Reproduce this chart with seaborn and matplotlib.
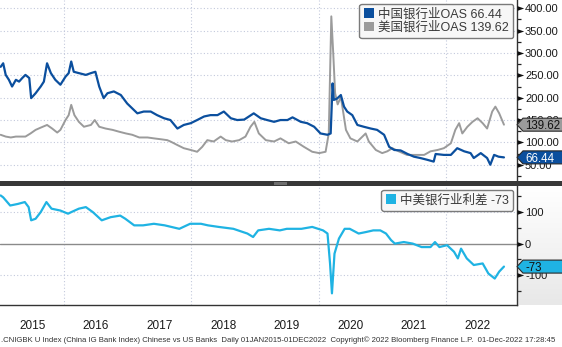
import numpy as np
import matplotlib
matplotlib.use("Agg")
import matplotlib.pyplot as plt
import matplotlib.transforms as mtransforms
from matplotlib.patches import Rectangle, Polygon, Patch
from matplotlib.path import Path
import seaborn as sns

sns.set_style("white")
plt.rcParams["font.family"] = ["Liberation Sans", "Noto Sans CJK SC", "DejaVu Sans"]
plt.rcParams["axes.unicode_minus"] = False

# ---------------- data (decimal years, bp) ----------------
cn_t = [2015.00, 2015.04, 2015.08, 2015.13, 2015.18, 2015.24, 2015.29, 2015.34, 2015.39, 2015.45,
        2015.48, 2015.55, 2015.63, 2015.68, 2015.73, 2015.79, 2015.86, 2015.94, 2016.02, 2016.07,
        2016.11, 2016.15, 2016.23, 2016.34, 2016.42, 2016.49, 2016.55, 2016.62, 2016.68, 2016.78,
        2016.89, 2016.99, 2017.07, 2017.15, 2017.25, 2017.36, 2017.46, 2017.57, 2017.67, 2017.78,
        2017.88, 2017.99, 2018.09, 2018.20, 2018.30, 2018.41, 2018.51, 2018.62, 2018.72, 2018.83,
        2018.98, 2019.09, 2019.19, 2019.30, 2019.40, 2019.51, 2019.59, 2019.72, 2019.82, 2019.93,
        2020.03, 2020.14, 2020.19, 2020.22, 2020.24, 2020.29, 2020.35, 2020.40, 2020.45, 2020.53,
        2020.61, 2020.71, 2020.82, 2020.92, 2021.03, 2021.11, 2021.19, 2021.29, 2021.40, 2021.50,
        2021.60, 2021.71, 2021.81, 2021.84, 2021.97, 2022.08, 2022.18, 2022.29, 2022.39, 2022.44,
        2022.55, 2022.65, 2022.70, 2022.76, 2022.83, 2022.915]
cn_v = [269, 277, 251, 240, 225, 240, 236, 244, 251, 244,
        199, 210, 225, 236, 277, 255, 240, 229, 247, 255,
        281, 258, 255, 251, 255, 258, 225, 199, 210, 214,
        206, 187, 176, 165, 169, 169, 161, 154, 150, 131,
        139, 143, 150, 158, 161, 161, 169, 154, 150, 151,
        165, 154, 150, 146, 150, 150, 156, 146, 143, 135,
        120, 117, 120, 232, 195, 198, 206, 180, 169, 161,
        139, 135, 131, 128, 117, 90, 83, 82, 74, 68,
        65, 61, 57, 74, 72, 72, 87, 80, 76, 65,
        76, 65, 50, 72, 68, 66.44]

us_t = [2015.00, 2015.08, 2015.16, 2015.24, 2015.31, 2015.39, 2015.47, 2015.55, 2015.63, 2015.73,
        2015.81, 2015.89, 2015.94, 2016.02, 2016.07, 2016.11, 2016.16, 2016.23, 2016.31, 2016.42,
        2016.48, 2016.55, 2016.65, 2016.76, 2016.86, 2016.97, 2017.07, 2017.18, 2017.31, 2017.41,
        2017.52, 2017.62, 2017.67, 2017.78, 2017.88, 2017.99, 2018.09, 2018.17, 2018.25, 2018.35,
        2018.46, 2018.54, 2018.64, 2018.75, 2018.85, 2018.93, 2018.99, 2019.06, 2019.17, 2019.30,
        2019.40, 2019.53, 2019.64, 2019.77, 2019.90, 2020.01, 2020.11, 2020.16, 2020.20, 2020.23,
        2020.26, 2020.30, 2020.35, 2020.39, 2020.43, 2020.50, 2020.61, 2020.69, 2020.74, 2020.79,
        2020.90, 2021.00, 2021.08, 2021.16, 2021.26, 2021.39, 2021.52, 2021.66, 2021.76, 2021.87,
        2021.97, 2022.08, 2022.15, 2022.21, 2022.26, 2022.34, 2022.42, 2022.50, 2022.58, 2022.65,
        2022.73, 2022.78, 2022.84, 2022.915]
us_v = [117, 113, 111, 113, 113, 113, 120, 128, 133, 139,
        131, 122, 128, 150, 161, 184, 161, 146, 135, 139,
        150, 135, 131, 128, 124, 120, 117, 111, 111, 109,
        107, 105, 102, 94, 87, 83, 79, 90, 105, 102,
        113, 105, 102, 105, 113, 135, 146, 120, 105, 102,
        109, 98, 102, 90, 79, 76, 79, 120, 382, 300,
        210, 185, 202, 165, 128, 109, 102, 113, 120, 102,
        83, 76, 80, 87, 80, 72, 72, 72, 80, 83,
        87, 98, 128, 143, 120, 135, 146, 154, 143, 131,
        169, 180, 165, 139.62]

sp_t = [2015.00, 2015.04, 2015.15, 2015.27, 2015.38, 2015.44, 2015.48, 2015.55, 2015.63, 2015.72,
        2015.80, 2015.94, 2016.06, 2016.11, 2016.23, 2016.34, 2016.45, 2016.59, 2016.73, 2016.88,
        2016.96, 2017.10, 2017.24, 2017.41, 2017.58, 2017.81, 2017.98, 2018.15, 2018.26, 2018.43,
        2018.66, 2018.88, 2018.97, 2019.05, 2019.22, 2019.39, 2019.50, 2019.73, 2019.90, 2020.07,
        2020.14, 2020.18, 2020.21, 2020.25, 2020.32, 2020.41, 2020.49, 2020.63, 2020.75, 2020.86,
        2020.97, 2021.06, 2021.14, 2021.20, 2021.34, 2021.48, 2021.62, 2021.76, 2021.83, 2021.90,
        2022.02, 2022.13, 2022.19, 2022.24, 2022.33, 2022.44, 2022.58, 2022.67, 2022.77, 2022.84,
        2022.915]
sp_v = [153, 147, 121, 126, 132, 116, 74, 79, 100, 132,
        111, 105, 95, 100, 111, 116, 100, 74, 84, 89,
        79, 58, 58, 63, 58, 47, 63, 63, 58, 53,
        47, 32, 21, 42, 47, 42, 47, 47, 53, 42,
        32, -63, -158, -32, 16, 47, 47, 32, 37, 42,
        42, 32, 11, 0, 5, 0, -11, -11, 5, -11,
        -5, -26, -47, -16, -47, -68, -63, -95, -111, -89,
        -73]

years = [2015, 2016, 2017, 2018, 2019, 2020, 2021, 2022]
grid_years = [2016, 2018, 2020, 2022]
top_ticks = [50, 100, 150, 200, 250, 300, 350, 400]
top_minor = [25, 75, 125, 175, 225, 275, 325, 375]
bot_ticks = [-100, 0, 100]
bot_minor = [-150, -50, 50, 150]
cn_name = "中国银行业OAS"
us_name = "美国银行业OAS"
sp_name = "中美银行业利差"
footnote = (".CNIGBK U Index (China IG Bank Index) Chinese vs US Banks  Daily 01JAN2015-01DEC2022  "
            "Copyright\u00a9 2022 Bloomberg Finance L.P.  01-Dec-2022 17:28:45")

# ---------------- style ----------------
BLUE = "#0b4f9e"
GRAY = "#9b9b9b"
CYAN = "#1fb3e3"
GRID = "#c3c9dc"
W, H = 562, 347

def fx(px):
    return px / W

def fy(py):
    return 1 - py / H

fig = plt.figure(figsize=(5.62, 3.47), dpi=100)
fig.patch.set_facecolor("white")

ax1 = fig.add_axes([0, fy(181), fx(517), 181 / H])
ax2 = fig.add_axes([0, fy(305), fx(517), (305 - 186) / H])

# gradient behind bottom-panel value axis
gax = fig.add_axes([fx(517), fy(305), fx(46), (305 - 186) / H], zorder=-5)
g = np.linspace(1.0, 0.91, 64)[:, None]
gax.imshow(np.dstack([g, g, g]), aspect="auto", extent=[0, 1, 0, 1])
gax.axis("off")

XL = (2014.99, 2023.12)
dots = (0, (1, 2))

# ---------------- top panel ----------------
for v in top_ticks:
    ax1.axhline(v, color=GRID, lw=0.8, ls=dots, zorder=0)
for yr in grid_years:
    ax1.axvline(yr, color=GRID, lw=0.8, ls=dots, zorder=0)
sns.lineplot(x=us_t, y=us_v, ax=ax1, color=GRAY, lw=1.4, estimator=None, sort=False, zorder=3)
sns.lineplot(x=cn_t, y=cn_v, ax=ax1, color=BLUE, lw=1.6, estimator=None, sort=False, zorder=4)
ax1.set_xlim(*XL)
ax1.set_ylim(13.6, 418.6)
ax1.set_xlabel("")
ax1.set_ylabel("")
ax1.set_xticks([])
ax1.yaxis.tick_right()
ax1.set_yticks(top_ticks)
ax1.set_yticklabels([f"{v:.2f}" for v in top_ticks])
ax1.set_yticks(top_minor, minor=True)
ax1.tick_params(axis="y", which="major", length=0, pad=5.8, labelsize=8, labelcolor="#1a1a1a")
ax1.tick_params(axis="y", which="minor", length=3, width=0.9, color="#222222", direction="out")
for s in ["left", "top", "bottom"]:
    ax1.spines[s].set_visible(False)
ax1.spines["right"].set_color("#333333")
ax1.spines["right"].set_linewidth(1.0)

leg1 = ax1.legend(handles=[Patch(facecolor=BLUE, edgecolor="none", label=f"{cn_name} {cn_v[-1]:.2f}"),
                           Patch(facecolor=GRAY, edgecolor="none", label=f"{us_name} {us_v[-1]:.2f}")],
                  loc="upper right", bbox_to_anchor=(1, 1), borderaxespad=0.3, fontsize=9,
                  handlelength=0.8, handleheight=0.8, handletextpad=0.35, labelspacing=0.1,
                  borderpad=0.35, frameon=True, fancybox=True, framealpha=1,
                  facecolor="#f7f7f7", edgecolor="#7a7a7a", labelcolor="#3a3a3a")
leg1.get_frame().set_linewidth(1.0)
leg1.set_zorder(20)

# ---------------- bottom panel ----------------
for v in [-100, 100]:
    ax2.axhline(v, color=GRID, lw=0.8, ls=dots, zorder=0)
for yr in grid_years:
    ax2.axvline(yr, color=GRID, lw=0.8, ls=dots, zorder=0)
ax2.axhline(0, color="#8a8a8a", lw=1.0, zorder=1)
sns.lineplot(x=sp_t, y=sp_v, ax=ax2, color=CYAN, lw=1.6, estimator=None, sort=False, zorder=4)
ax2.set_xlim(*XL)
ax2.set_ylim(-195, 183)
ax2.set_xlabel("")
ax2.set_ylabel("")
ax2.yaxis.tick_right()
ax2.set_yticks(bot_ticks)
ax2.set_yticklabels([str(v) for v in bot_ticks])
ax2.set_yticks(bot_minor, minor=True)
ax2.tick_params(axis="y", which="major", length=0, pad=5.8, labelsize=8, labelcolor="#1a1a1a")
ax2.tick_params(axis="y", which="minor", length=3, width=0.9, color="#222222", direction="out")
ax2.set_xticks([y + 1 for y in years])
ax2.set_xticklabels([])
ax2.set_xticks([y + 0.5 for y in years], minor=True)
ax2.set_xticklabels([str(y) for y in years], minor=True)
ax2.tick_params(axis="x", which="major", length=20, width=0.9, color="#6a6a6a", direction="out")
ax2.tick_params(axis="x", which="minor", length=0, pad=10.5, labelsize=8.5, labelcolor="#1a1a1a")
for s in ["left", "top"]:
    ax2.spines[s].set_visible(False)
for s in ["right", "bottom"]:
    ax2.spines[s].set_color("#333333")
    ax2.spines[s].set_linewidth(1.0)

leg2 = ax2.legend(handles=[Patch(facecolor=CYAN, edgecolor="none", label=f"{sp_name} {sp_v[-1]:.0f}")],
                  loc="upper right", bbox_to_anchor=(1, 1), borderaxespad=0.3, fontsize=9,
                  handlelength=0.8, handleheight=0.8, handletextpad=0.35,
                  borderpad=0.35, frameon=True, fancybox=True, framealpha=1,
                  facecolor="#f7f7f7", edgecolor="#7a7a7a", labelcolor="#3a3a3a")
leg2.get_frame().set_linewidth(1.0)
leg2.set_zorder(20)

# triangular major tick markers on the value axes
tri = Path([(0, -0.35), (1, 0), (0, 0.35), (0, -0.35)],
           [Path.MOVETO, Path.LINETO, Path.LINETO, Path.CLOSEPOLY])
for ax, tks in [(ax1, top_ticks), (ax2, bot_ticks)]:
    bt = mtransforms.blended_transform_factory(ax.transAxes, ax.transData)
    ax.plot([1.0] * len(tks), tks, transform=bt, marker=tri, ms=9.6, mew=0,
            ls="none", color="#111111", clip_on=False, zorder=6)

# ---------------- separator between panels ----------------
fig.add_artist(Rectangle((0, fy(186)), 1, 5 / H, transform=fig.transFigure,
                         facecolor="#383838", edgecolor="none", zorder=30))
fig.add_artist(Rectangle((fx(274), fy(185)), fx(13), 3 / H, transform=fig.transFigure,
                         facecolor="#6e6e6e", edgecolor="none", zorder=31))

# ---------------- last-value tags ----------------
ident = mtransforms.IdentityTransform()

def tag(ax, val, text, face, tcolor):
    x0 = ax.transAxes.transform((1, 0))[0]
    y = ax.transData.transform((0, val))[1]
    h = 6.5
    verts = [(x0, y), (x0 + 6, y + h), (W + 6, y + h), (W + 6, y - h), (x0 + 6, y - h)]
    fig.add_artist(Polygon(verts, closed=True, transform=ident, facecolor=face,
                           edgecolor="#2a2a2a", lw=0.8, zorder=40))
    fig.text(x0 + 8, y, text, transform=ident, ha="left", va="center_baseline",
             fontsize=8.3, color=tcolor, zorder=41)

tag(ax1, us_v[-1], f"{us_v[-1]:.2f}", GRAY, "#111111")
tag(ax1, cn_v[-1], f"{cn_v[-1]:.2f}", BLUE, "white")
tag(ax2, sp_v[-1], f"{sp_v[-1]:.0f}", CYAN, "#111111")

# ---------------- footnote ----------------
fig.text(fx(1), fy(340), footnote, ha="left", va="center", fontsize=5.6, color="#333333")

fig.savefig("out.png", dpi=100, facecolor="white")
